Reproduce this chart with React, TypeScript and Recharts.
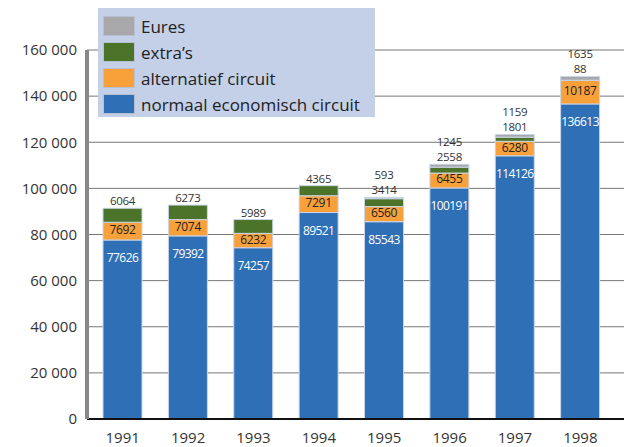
import { BarChart, Bar, XAxis, YAxis, CartesianGrid, LabelList } from "recharts";

const years = ["1991", "1992", "1993", "1994", "1995", "1996", "1997", "1998"];
const normaal = [77626, 79392, 74257, 89521, 85543, 100191, 114126, 136613];
const alternatief = [7692, 7074, 6232, 7291, 6560, 6455, 6280, 10187];
const extras = [6064, 6273, 5989, 4365, 3414, 2558, 1801, 88];
const eures = [0, 0, 0, 0, 593, 1245, 1159, 1635];
const yTicks = [0, 20000, 40000, 60000, 80000, 100000, 120000, 140000, 160000];

const BLUE = "#2f6fb5";
const ORANGE = "#f8a13b";
const GREEN = "#4b7329";
const GREY = "#a8a8aa";
const FONT = "'Open Sans', sans-serif";
const Y_MAX = 160000;
const PLOT_H = 369;

const legendItems = [
  { name: "Eures", color: GREY },
  { name: "extra’s", color: GREEN },
  { name: "alternatief circuit", color: ORANGE },
  { name: "normaal economisch circuit", color: BLUE },
];

const data = years.map((year, i) => ({
  year,
  normaal: normaal[i],
  alternatief: alternatief[i],
  extras: extras[i],
  eures: eures[i],
}));

const fmt = (v: number) => String(v).replace(/\B(?=(\d{3})+(?!\d))/g, " ");

function ChartLegend() {
  return (
    <div
      style={{
        position: "absolute",
        left: 98,
        top: 8,
        background: "#c4cfe8",
        width: 277,
        height: 109,
        boxSizing: "border-box",
        padding: "5px 0 0 5px",
        fontFamily: FONT,
        fontSize: 17,
        color: "#222",
      }}
    >
      {legendItems.map((it) => (
        <div key={it.name} style={{ display: "flex", alignItems: "center", height: 26 }}>
          <span
            style={{
              display: "inline-block",
              width: 32,
              height: 20,
              background: it.color,
              border: "1px solid #b8bfd0",
              boxSizing: "border-box",
              marginRight: 6,
            }}
          />
          <span>{it.name}</span>
        </div>
      ))}
    </div>
  );
}

// labels above the stack: eures on top, extra's just below it
function TopLabels(props: any) {
  const { x, y, width, index } = props;
  const cx = x + width / 2;
  const e = eures[index];
  const top = y - (e / Y_MAX) * PLOT_H;
  return (
    <g fontFamily={FONT} fontSize={11.5} fill="#333" textAnchor="middle" letterSpacing={-0.3}>
      {e > 0 && (
        <text x={cx} y={top - 18}>
          {e}
        </text>
      )}
      <text x={cx} y={top - 3}>
        {extras[index]}
      </text>
    </g>
  );
}

function BlueLabel(props: any) {
  const { x, y, width, value } = props;
  return (
    <text
      x={x + width / 2}
      y={y + 22}
      textAnchor="middle"
      fill="#fff"
      fontFamily={FONT}
      fontSize={12}
      letterSpacing={-0.6}
    >
      {value}
    </text>
  );
}

function OrangeLabel(props: any) {
  const { x, y, width, height, value } = props;
  return (
    <text
      x={x + width / 2}
      y={y + height / 2 + 3}
      textAnchor="middle"
      fill="#222"
      fontFamily={FONT}
      fontSize={12}
      letterSpacing={-0.3}
    >
      {value}
    </text>
  );
}

export default function App() {
  return (
    <div style={{ position: "absolute", left: 0, top: 0, width: 624, height: 447, background: "#fff" }}>
      <BarChart width={624} height={447} data={data} margin={{ top: 50, right: 0, left: 0, bottom: 0 }} barSize={39}>
        <CartesianGrid vertical={false} stroke="#777" />
        <XAxis
          dataKey="year"
          height={28}
          padding={{ left: 3, right: 11 }}
          axisLine={{ stroke: "#111", strokeWidth: 2 }}
          tickLine={false}
          tickMargin={7}
          tick={{ fontSize: 15, fill: "#333", fontFamily: FONT }}
        />
        <YAxis
          width={87}
          domain={[0, Y_MAX]}
          ticks={yTicks}
          interval={0}
          tickFormatter={fmt}
          axisLine={{ stroke: "#888", strokeWidth: 4 }}
          tickLine={false}
          tickMargin={4}
          tick={{ fontSize: 15, fill: "#333", fontFamily: FONT }}
        />
        <Bar dataKey="normaal" stackId="a" fill={BLUE} stroke="#c9d6ea" strokeWidth={1} isAnimationActive={false}>
          <LabelList dataKey="normaal" content={BlueLabel} />
        </Bar>
        <Bar dataKey="alternatief" stackId="a" fill={ORANGE} stroke="#c9d6ea" strokeWidth={1} isAnimationActive={false}>
          <LabelList dataKey="alternatief" content={OrangeLabel} />
        </Bar>
        <Bar dataKey="extras" stackId="a" fill={GREEN} stroke="#c9d6ea" strokeWidth={1} isAnimationActive={false}>
          <LabelList dataKey="extras" content={TopLabels} />
        </Bar>
        <Bar dataKey="eures" stackId="a" fill={GREY} stroke="#c9d6ea" strokeWidth={1} isAnimationActive={false} />
      </BarChart>
      <ChartLegend />
    </div>
  );
}
